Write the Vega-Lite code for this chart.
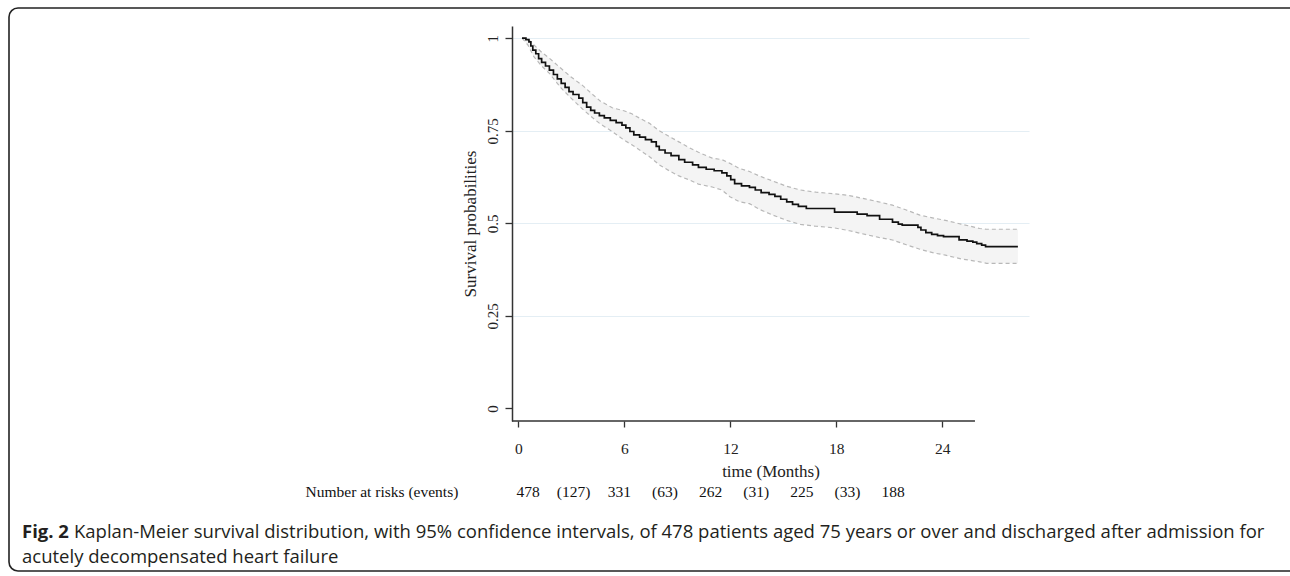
{
  "$schema": "https://vega.github.io/schema/vega-lite/v6.json",
  "width": 517,
  "height": 395,
  "autosize": {"type": "none"},
  "padding": {"left": 512, "top": 26, "right": 261, "bottom": 155},
  "background": "white",
  "config": {"view": {"stroke": null}, "font": "Liberation Serif"},
  "datasets": {
    "km": [
      {"t": 0.2, "s": 1}, {"t": 0.42, "s": 0.996}, {"t": 0.59, "s": 0.99}, {"t": 0.7, "s": 0.979},
      {"t": 0.81, "s": 0.968}, {"t": 0.98, "s": 0.958}, {"t": 1.14, "s": 0.945}, {"t": 1.31, "s": 0.935},
      {"t": 1.53, "s": 0.925}, {"t": 1.75, "s": 0.914}, {"t": 1.98, "s": 0.902}, {"t": 2.2, "s": 0.89},
      {"t": 2.42, "s": 0.878}, {"t": 2.64, "s": 0.867}, {"t": 2.86, "s": 0.856}, {"t": 3.09, "s": 0.848},
      {"t": 3.42, "s": 0.838}, {"t": 3.64, "s": 0.826}, {"t": 3.86, "s": 0.814}, {"t": 4.09, "s": 0.805},
      {"t": 4.31, "s": 0.798}, {"t": 4.58, "s": 0.791}, {"t": 4.86, "s": 0.785}, {"t": 5.2, "s": 0.778},
      {"t": 5.53, "s": 0.772}, {"t": 5.86, "s": 0.765}, {"t": 6.08, "s": 0.758}, {"t": 6.31, "s": 0.748},
      {"t": 6.53, "s": 0.739}, {"t": 6.86, "s": 0.733}, {"t": 7.19, "s": 0.726}, {"t": 7.53, "s": 0.72},
      {"t": 7.8, "s": 0.708}, {"t": 7.97, "s": 0.698}, {"t": 8.3, "s": 0.69}, {"t": 8.64, "s": 0.683},
      {"t": 9.08, "s": 0.672}, {"t": 9.41, "s": 0.665}, {"t": 9.86, "s": 0.658}, {"t": 10.19, "s": 0.651},
      {"t": 10.63, "s": 0.646}, {"t": 11.08, "s": 0.642}, {"t": 11.52, "s": 0.636}, {"t": 11.8, "s": 0.628},
      {"t": 12.02, "s": 0.618}, {"t": 12.24, "s": 0.607}, {"t": 12.63, "s": 0.601}, {"t": 13.08, "s": 0.597},
      {"t": 13.41, "s": 0.59}, {"t": 13.74, "s": 0.583}, {"t": 14.19, "s": 0.578}, {"t": 14.52, "s": 0.573},
      {"t": 14.85, "s": 0.565}, {"t": 15.19, "s": 0.558}, {"t": 15.52, "s": 0.551}, {"t": 15.85, "s": 0.546},
      {"t": 16.3, "s": 0.54}, {"t": 17.9, "s": 0.53}, {"t": 19.18, "s": 0.525}, {"t": 19.74, "s": 0.521},
      {"t": 20.45, "s": 0.511}, {"t": 21.18, "s": 0.503}, {"t": 21.51, "s": 0.498}, {"t": 21.73, "s": 0.495},
      {"t": 22.62, "s": 0.489}, {"t": 22.79, "s": 0.482}, {"t": 23.07, "s": 0.475}, {"t": 23.4, "s": 0.47},
      {"t": 23.73, "s": 0.467}, {"t": 24.07, "s": 0.464}, {"t": 24.95, "s": 0.455}, {"t": 25.4, "s": 0.452},
      {"t": 25.73, "s": 0.449}, {"t": 25.95, "s": 0.445}, {"t": 26.23, "s": 0.441}, {"t": 26.45, "s": 0.437},
      {"t": 28.28, "s": 0.437}
    ],
    "ci": [
      {"t": 0.2, "lo": 1, "hi": 1}, {"t": 0.53, "lo": 0.982, "hi": 0.998}, {"t": 0.87, "lo": 0.95, "hi": 0.982},
      {"t": 1.31, "lo": 0.925, "hi": 0.962}, {"t": 1.75, "lo": 0.905, "hi": 0.946}, {"t": 2.42, "lo": 0.865, "hi": 0.918},
      {"t": 2.98, "lo": 0.838, "hi": 0.895}, {"t": 3.64, "lo": 0.808, "hi": 0.872}, {"t": 4.2, "lo": 0.785, "hi": 0.848},
      {"t": 4.64, "lo": 0.768, "hi": 0.83}, {"t": 5.31, "lo": 0.748, "hi": 0.812}, {"t": 5.97, "lo": 0.725, "hi": 0.804},
      {"t": 6.42, "lo": 0.712, "hi": 0.796}, {"t": 6.86, "lo": 0.698, "hi": 0.784}, {"t": 7.42, "lo": 0.68, "hi": 0.77},
      {"t": 7.97, "lo": 0.658, "hi": 0.75}, {"t": 8.53, "lo": 0.642, "hi": 0.735}, {"t": 9.08, "lo": 0.628, "hi": 0.72},
      {"t": 9.64, "lo": 0.618, "hi": 0.705}, {"t": 10.19, "lo": 0.606, "hi": 0.692}, {"t": 10.97, "lo": 0.598, "hi": 0.676},
      {"t": 11.52, "lo": 0.59, "hi": 0.672}, {"t": 11.97, "lo": 0.572, "hi": 0.662}, {"t": 12.52, "lo": 0.558, "hi": 0.648},
      {"t": 13.08, "lo": 0.553, "hi": 0.64}, {"t": 13.63, "lo": 0.538, "hi": 0.628}, {"t": 14.41, "lo": 0.522, "hi": 0.614},
      {"t": 15.19, "lo": 0.508, "hi": 0.6}, {"t": 15.96, "lo": 0.497, "hi": 0.59}, {"t": 16.85, "lo": 0.492, "hi": 0.584},
      {"t": 17.85, "lo": 0.488, "hi": 0.58}, {"t": 18.74, "lo": 0.48, "hi": 0.575}, {"t": 19.63, "lo": 0.47, "hi": 0.566},
      {"t": 20.4, "lo": 0.462, "hi": 0.558}, {"t": 21.18, "lo": 0.455, "hi": 0.549}, {"t": 21.96, "lo": 0.442, "hi": 0.536},
      {"t": 22.73, "lo": 0.43, "hi": 0.522}, {"t": 23.51, "lo": 0.42, "hi": 0.514}, {"t": 24.18, "lo": 0.414, "hi": 0.508},
      {"t": 25.06, "lo": 0.404, "hi": 0.498}, {"t": 26.12, "lo": 0.396, "hi": 0.486}, {"t": 26.51, "lo": 0.392, "hi": 0.484},
      {"t": 28.28, "lo": 0.392, "hi": 0.484}
    ],
    "xaxisline": [{"t1": -0.368, "t2": 25.85, "y": -0.034}],
    "risk": [
      {"col": 1, "txt": "478"}, {"col": 2, "txt": "(127)"}, {"col": 3, "txt": "331"},
      {"col": 4, "txt": "(63)"}, {"col": 5, "txt": "262"}, {"col": 6, "txt": "(31)"},
      {"col": 7, "txt": "225"}, {"col": 8, "txt": "(33)"}, {"col": 9, "txt": "188"}
    ],
    "risklabel": [{"col": 0, "txt": "Number at risks (events)"}],
    "one": [{"k": 1}]
  },
  "layer": [
    {
      "data": {"name": "one"},
      "mark": {"type": "rect", "x": -503, "x2": 800, "y": -18, "y2": 545, "fill": null, "stroke": "#222", "strokeWidth": 1.6, "cornerRadius": 9},
      "encoding": {}
    },
    {
      "layer": [
        {
          "data": {"name": "ci"},
          "mark": {"type": "area", "color": "#f4f4f4", "interpolate": "linear"},
          "encoding": {
            "x": {"field": "t", "type": "quantitative",
              "scale": {"domain": [-0.368, 28.91], "nice": false, "zero": false},
              "axis": {"values": [0, 6, 12, 18, 24], "title": "time (Months)", "grid": false, "domain": false,
                "tickColor": "#333", "tickWidth": 1.3, "tickSize": 6,
                "labelFont": "Liberation Serif", "labelFontSize": 15.5, "labelColor": "#222", "labelPadding": 14,
                "titleFont": "Liberation Serif", "titleFontSize": 17, "titleFontWeight": "normal", "titleColor": "#222", "titlePadding": 7}},
            "y": {"field": "lo", "type": "quantitative",
              "scale": {"domain": [-0.034, 1.033], "nice": false, "zero": false},
              "axis": {"values": [0, 0.25, 0.5, 0.75, 1], "title": "Survival probabilities",
                "labelExpr": "datum.value + ''", "labelAngle": -90, "labelAlign": "center", "labelBaseline": "bottom",
                "grid": true, "gridColor": "#e4eef4", "gridWidth": 1.2,
                "gridOpacity": {"condition": {"test": "datum.value === 0", "value": 0}, "value": 1},
                "domainColor": "#333", "domainWidth": 1.5, "tickColor": "#333", "tickWidth": 1.3, "tickSize": 7,
                "labelFont": "Liberation Serif", "labelFontSize": 15, "labelColor": "#222", "labelPadding": 5,
                "titleFont": "Liberation Serif", "titleFontSize": 17, "titleFontWeight": "normal", "titleColor": "#222", "titlePadding": 6}},
            "y2": {"field": "hi"}
          }
        },
        {
          "data": {"name": "ci"},
          "mark": {"type": "line", "color": "#b8b8b8", "strokeWidth": 1.2, "strokeDash": [4, 3]},
          "encoding": {"x": {"field": "t", "type": "quantitative"}, "y": {"field": "hi", "type": "quantitative"}}
        },
        {
          "data": {"name": "ci"},
          "mark": {"type": "line", "color": "#b8b8b8", "strokeWidth": 1.2, "strokeDash": [4, 3]},
          "encoding": {"x": {"field": "t", "type": "quantitative"}, "y": {"field": "lo", "type": "quantitative"}}
        },
        {
          "data": {"name": "km"},
          "mark": {"type": "line", "color": "#111", "strokeWidth": 1.7, "interpolate": "step-after"},
          "encoding": {"x": {"field": "t", "type": "quantitative"}, "y": {"field": "s", "type": "quantitative"}}
        },
        {
          "data": {"name": "xaxisline"},
          "mark": {"type": "rule", "color": "#333", "strokeWidth": 1.5},
          "encoding": {"x": {"field": "t1", "type": "quantitative"}, "x2": {"field": "t2"}, "y": {"field": "y", "type": "quantitative"}}
        }
      ]
    },
    {
      "layer": [
        {
          "data": {"name": "risk"},
          "mark": {"type": "text", "font": "Liberation Serif", "fontSize": 15.5, "color": "#111", "align": "center", "baseline": "middle", "y": 466},
          "encoding": {
            "x": {"field": "col", "type": "quantitative", "scale": {"domain": [1, 9], "range": [16, 381]}, "axis": null},
            "text": {"field": "txt"}
          }
        },
        {
          "data": {"name": "risklabel"},
          "mark": {"type": "text", "font": "Liberation Serif", "fontSize": 15.5, "color": "#111", "align": "right", "baseline": "middle", "y": 466, "dx": -24},
          "encoding": {
            "x": {"field": "col", "type": "quantitative", "scale": {"domain": [1, 9], "range": [16, 381]}, "axis": null},
            "text": {"field": "txt"}
          }
        }
      ]
    },
    {
      "data": {"name": "one"},
      "mark": {"type": "text", "text": "Fig. 2", "font": "Open Sans", "fontSize": 18.5, "fontWeight": "bold", "color": "#231f20", "align": "left", "baseline": "middle", "x": -490, "y": 506},
      "encoding": {}
    },
    {
      "data": {"name": "one"},
      "mark": {"type": "text", "text": "Kaplan-Meier survival distribution, with 95% confidence intervals, of 478 patients aged 75 years or over and discharged after admission for", "font": "Open Sans", "fontSize": 18.5, "color": "#231f20", "align": "left", "baseline": "middle", "x": -438, "y": 506},
      "encoding": {}
    },
    {
      "data": {"name": "one"},
      "mark": {"type": "text", "text": "acutely decompensated heart failure", "font": "Open Sans", "fontSize": 18.5, "color": "#231f20", "align": "left", "baseline": "middle", "x": -490, "y": 531},
      "encoding": {}
    }
  ],
  "resolve": {"scale": {"x": "independent"}}
}
